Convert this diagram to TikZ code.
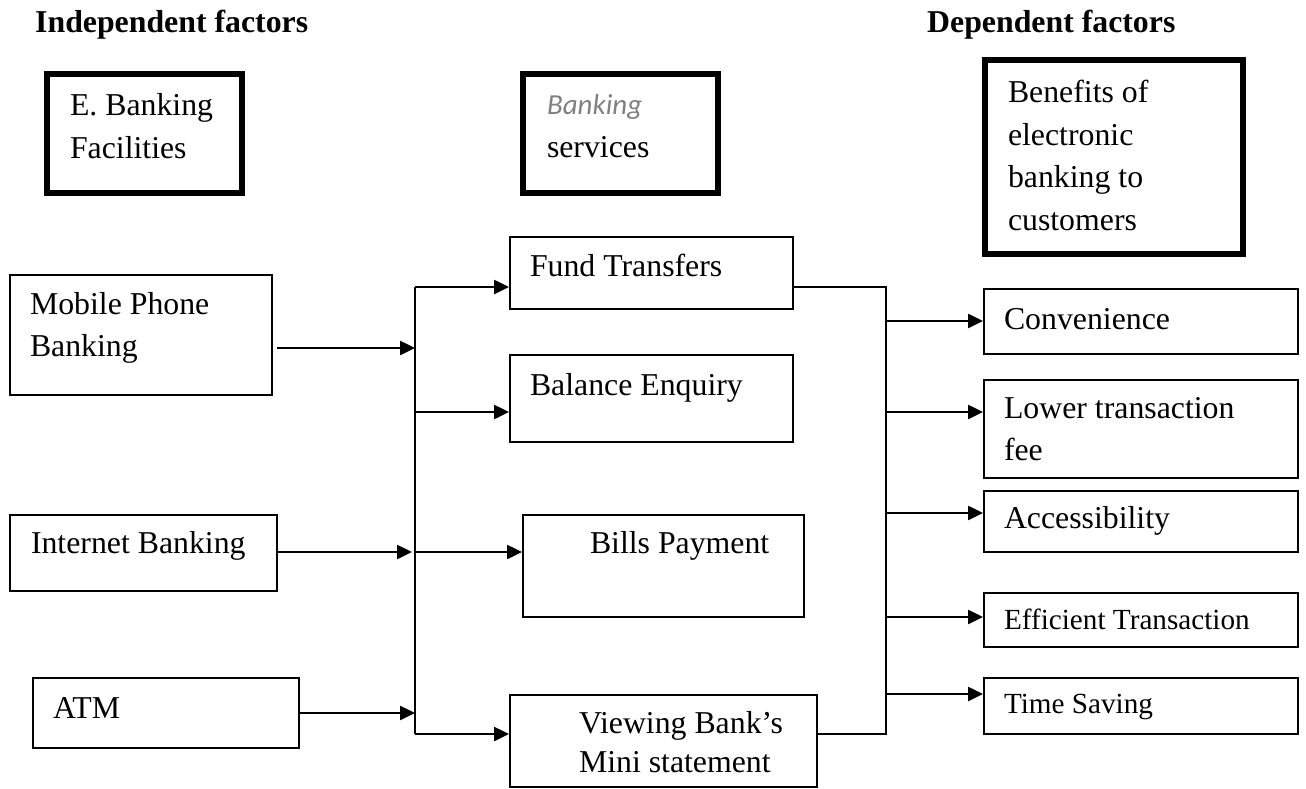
\documentclass[tikz,border=0pt]{standalone}
\usepackage{fontspec}
\setmainfont{Liberation Serif}
\newfontfamily\calib{Carlito}
\usetikzlibrary{arrows.meta}
\definecolor{bankgray}{RGB}{128,128,128}
\newcommand\bodyfont{\fontsize{31.8}{42.5}\selectfont}
\newcommand\smallfont{\fontsize{29.2}{39}\selectfont}
\tikzset{
  plain box/.style={
    draw,
    line width=2pt,
    anchor=north west,
    inner sep=0pt,
    align=flush left,
    font=\bodyfont,
  },
  bold box/.style={
    plain box,
    line width=6pt,
  },
  indent/.style={
    execute at begin node={\leftskip=#1pt\relax},
  },
  benefit box/.style={
    plain box,
    indent=20,
    text width=314pt,
  },
  head/.style={
    anchor=base west,
    inner sep=0pt,
    font=\bfseries\bodyfont,
  },
  link/.style={
    line width=2.5pt,
  },
  arrow link/.style={
    link,
    -{Triangle[length=15pt,width=14pt]},
  }
}

\begin{document}
\begin{tikzpicture}[x=1pt, y=-1pt]
        \useasboundingbox (0,0) rectangle (1306,789);

        \node [head] (indep) at (35,33) {Independent factors};
        \node [head] (dep) at (927,33) {Dependent factors};

        \node [bold box, indent=23, text width=195pt, text height=42pt, text depth=77pt] (ebf) at (44,71) {E. Banking\\Facilities};
        \node [bold box, indent=24, text width=195pt, text height=41pt, text depth=78pt] (bsv) at (520,71)
          {{\calib\itshape\fontsize{29}{42.5}\selectfont\color{bankgray}Banking}\\services};
        \node [bold box, indent=23, text width=258pt, text height=43pt, text depth=151pt] (bdc) at (982,57)
          {Benefits of\\electronic\\banking to\\customers};

        % facilities
        \node [plain box, indent=20, text width=262pt, text height=39pt, text depth=81pt] (mob) at (9,274) {Mobile Phone\\Banking};
        \node [plain box, indent=21, text width=267pt, text height=38pt, text depth=38pt] (ibk) at (9,514) {Internet Banking};
        \node [plain box, indent=20, text width=266pt, text height=40pt, text depth=30pt] (atm) at (32,677) {ATM};

        % services
        \node [plain box, indent=20, text width=283pt, text height=39pt, text depth=33pt] (fnd) at (509,236) {Fund Transfers};
        \node [plain box, indent=20, text width=283pt, text height=40pt, text depth=47pt] (bal) at (509,354) {Balance Enquiry};
        \node [plain box, indent=67, text width=281pt, text height=38pt, text depth=64pt] (bil) at (522,514) {Bills Payment};
        \node [plain box, indent=69, text width=307pt, text height=38pt, text depth=54pt] (vmb) at (509,694)
          {Viewing Bank's\\[-3.5pt]Mini statement};

        % benefits
        \node [benefit box, text height=40pt, text depth=25pt] (cnv) at (983,288) {Convenience};
        \node [benefit box, text height=38pt, text depth=60pt] (ltf) at (983,379) {Lower transaction\\fee};
        \node [benefit box, text height=37pt, text depth=24pt] (acc) at (983,490) {Accessibility};
        \node [benefit box, text height=36pt, text depth=18pt, font=\smallfont] (eft) at (983,592) {Efficient Transaction};
        \node [benefit box, text height=35pt, text depth=21pt, font=\smallfont] (tsv) at (983,677) {Time Saving};

        % left bus
        \coordinate (lb1) at (415,287);
        \coordinate (lb2) at (415,348);
        \coordinate (lb3) at (415,412);
        \coordinate (lb4) at (415,552);
        \coordinate (lb5) at (415,713);
        \coordinate (lb6) at (415,734);
        % right bus
        \coordinate (rb0) at (886,287);
        \coordinate (rb1) at (886,321);
        \coordinate (rb2) at (886,412);
        \coordinate (rb3) at (886,513);
        \coordinate (rb4) at (886,617);
        \coordinate (rb5) at (886,694);
        \coordinate (rb6) at (886,734);

        \draw [link] (lb1) -- (lb6);
        \draw [arrow link] ([xshift=4pt]mob.east |- lb2) -- (lb2);
        \draw [arrow link] (ibk.east |- lb4) -- ([xshift=-3pt]lb4);
        \draw [arrow link] (atm.east |- lb5) -- (lb5);

        \draw [arrow link] (lb1) -- (fnd.west |- lb1);
        \draw [arrow link] (lb3) -- (bal.west |- lb3);
        \draw [arrow link] (lb4) -- (bil.west |- lb4);
        \draw [arrow link] (lb6) -- (vmb.west |- lb6);

        \draw [link] (fnd.east |- rb0) -- (rb0) -- (rb6) -- (vmb.east |- rb6);
        \foreach \target/\from in {cnv/rb1, ltf/rb2, acc/rb3, eft/rb4, tsv/rb5}
          \draw [arrow link] (\from) -- (\target.west |- \from);
      \end{tikzpicture}
\end{document}
